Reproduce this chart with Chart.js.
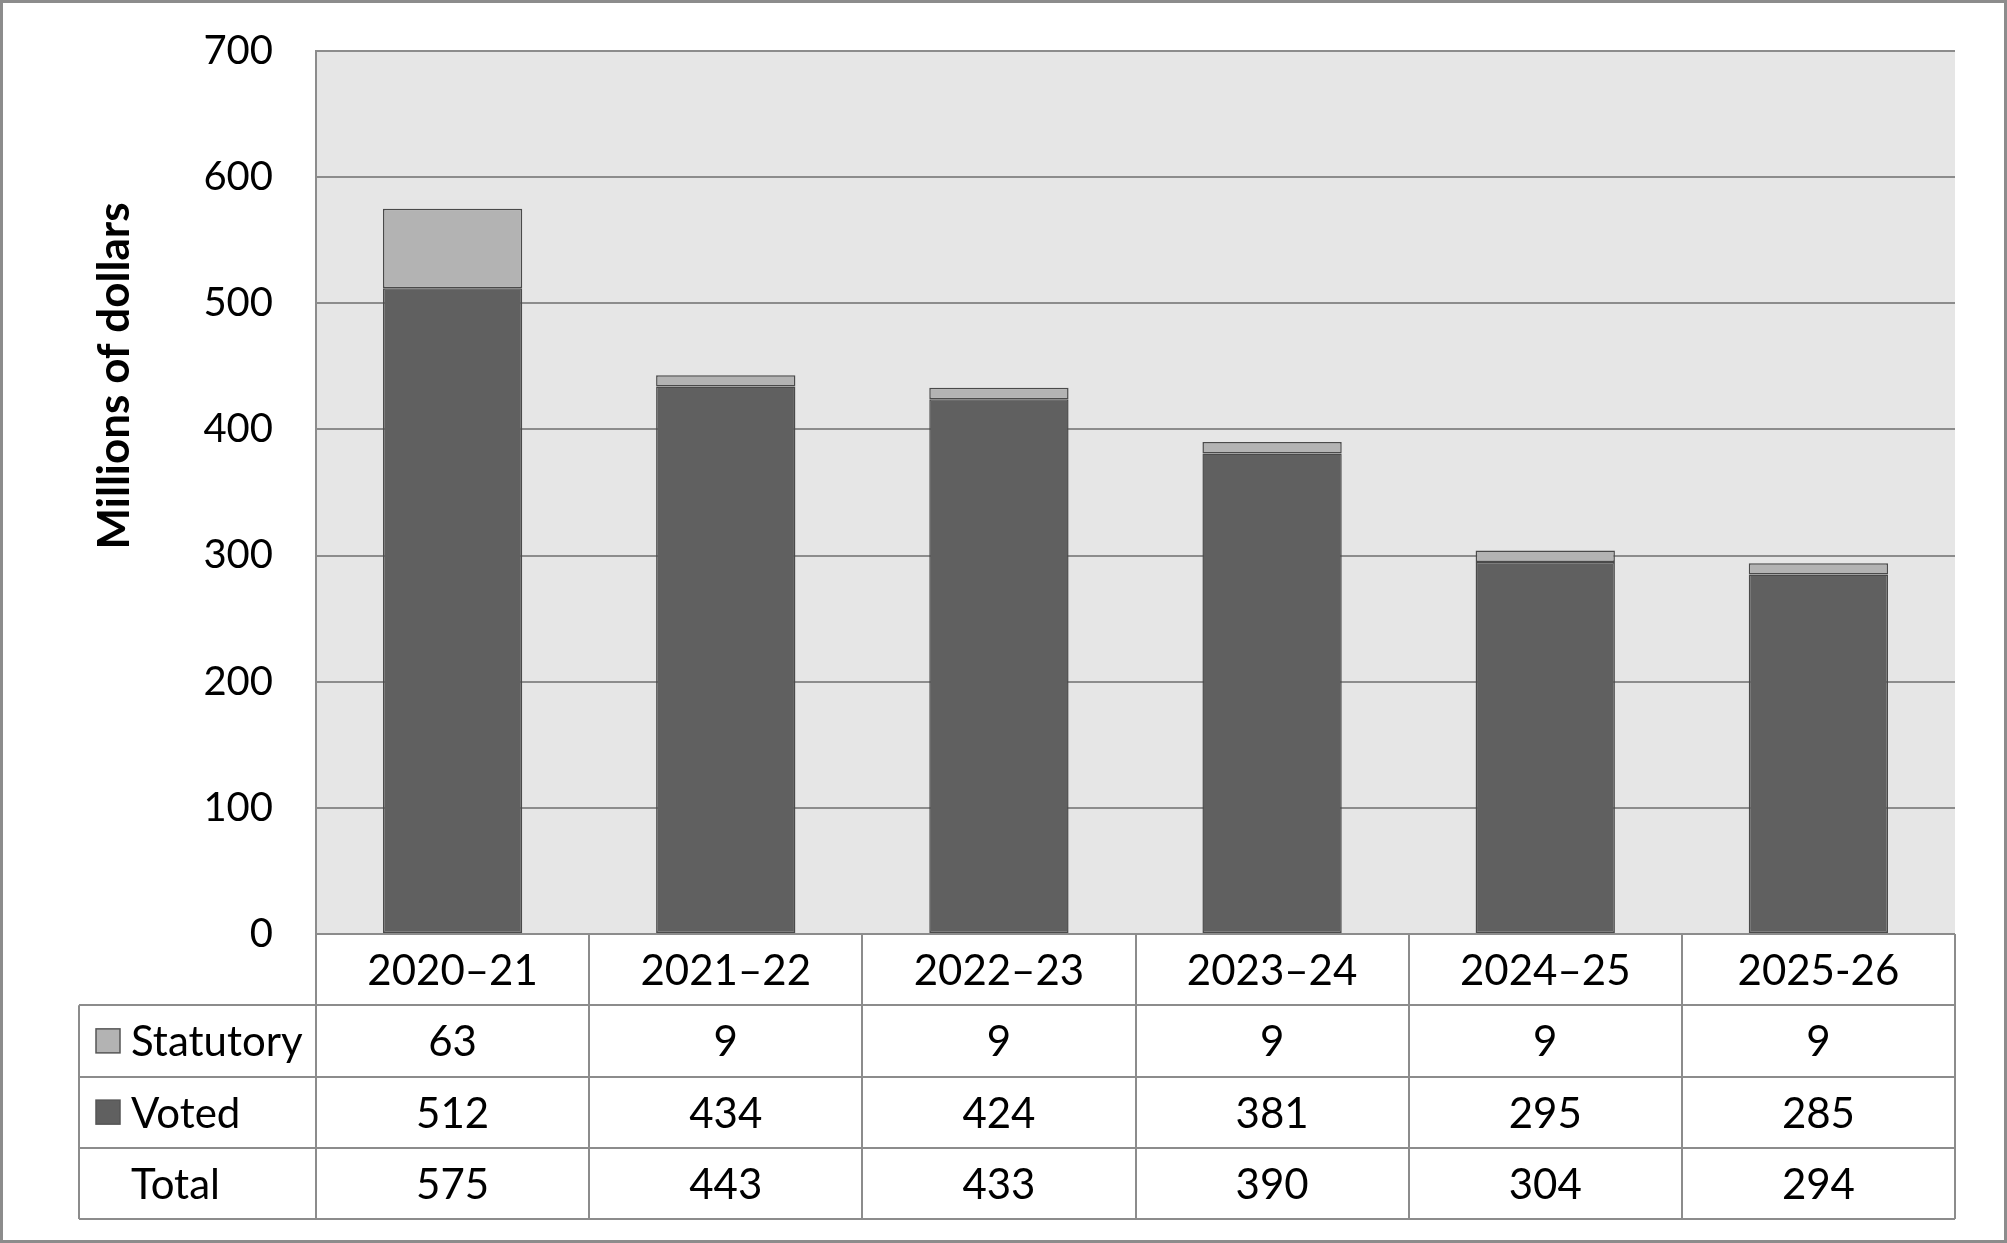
<!DOCTYPE html>
<html>
<head>
<meta charset="utf-8">
<script src="https://cdn.jsdelivr.net/npm/chart.js"></script>
<style>
  html, body { margin: 0; padding: 0; background: #fff; }
  #wrap { width: 2007px; height: 1243px; }
</style>
</head>
<body>
<div id="wrap"><canvas id="chart" width="2007" height="1243"></canvas></div>
<script>
// chart data
const years = ['2020–21', '2021–22', '2022–23', '2023–24', '2024–25', '2025-26'];
const statutory = [63, 9, 9, 9, 9, 9];
const voted = [512, 434, 424, 381, 295, 285];
const totals = [575, 443, 433, 390, 304, 294];
const rowNames = ['Statutory', 'Voted', 'Total'];
const yMax = 700;
const yStep = 100;

const FONT = 'Lato, "Open Sans", sans-serif';
const LINE = '#8c8c8c';
const VOTED_COLOR = '#606060';
const STAT_COLOR = '#b3b3b3';

// background, data table under the plot, axis title and outer frame
const tablePlugin = {
    id: 'tableAndFrame',
    beforeDraw(chart) {
        const { ctx, chartArea: a } = chart;
        ctx.save();
        ctx.fillStyle = '#ffffff';
        ctx.fillRect(0, 0, chart.width, chart.height);
        ctx.fillStyle = '#e6e6e6';
        ctx.fillRect(a.left, a.top, a.right - a.left, a.bottom - a.top);
        ctx.restore();
    },
    afterDraw(chart) {
        const { ctx, chartArea: a } = chart;
        const xs = chart.scales.x;
        const colW = (a.right - a.left) / years.length;
        const top = a.bottom;
        const rowH = (xs.bottom - top) / 4;
        const legendLeft = 79;

        ctx.save();
        ctx.strokeStyle = LINE;
        ctx.lineWidth = 2;

        // horizontal lines
        for (let r = 0; r <= 4; r++) {
            const y = Math.round(top + r * rowH);
            ctx.beginPath();
            ctx.moveTo(r === 0 ? a.left : legendLeft, y);
            ctx.lineTo(a.right, y);
            ctx.stroke();
        }
        // vertical lines
        for (let i = 0; i <= years.length; i++) {
            const x = Math.round(a.left + i * colW);
            ctx.beginPath();
            ctx.moveTo(x, top);
            ctx.lineTo(x, top + 4 * rowH);
            ctx.stroke();
        }
        ctx.beginPath();
        ctx.moveTo(legendLeft, top + rowH);
        ctx.lineTo(legendLeft, top + 4 * rowH);
        ctx.stroke();

        // cell text
        ctx.fillStyle = '#000';
        ctx.textAlign = 'center';
        ctx.textBaseline = 'middle';
        ctx.font = '42px ' + FONT;
        const rows = [years, statutory, voted, totals];
        rows.forEach((vals, r) => {
            const cy = top + r * rowH + rowH / 2 + 2;
            vals.forEach((v, i) => {
                ctx.fillText(String(v), xs.getPixelForValue(i), cy);
            });
        });

        // legend column
        ctx.textAlign = 'left';
        ctx.font = '42px ' + FONT;
        rowNames.forEach((name, r) => {
            const cy = top + (r + 1) * rowH + rowH / 2;
            if (r < 2) {
                ctx.fillStyle = r === 0 ? STAT_COLOR : VOTED_COLOR;
                ctx.fillRect(96, cy - 12, 24, 24);
                ctx.strokeStyle = '#555';
                ctx.lineWidth = 1.5;
                ctx.strokeRect(96, cy - 12, 24, 24);
            }
            ctx.fillStyle = '#000';
            ctx.fillText(name, 131, cy + 2);
        });

        // y axis title
        ctx.save();
        ctx.translate(115, 376);
        ctx.rotate(-Math.PI / 2);
        ctx.textAlign = 'center';
        ctx.textBaseline = 'middle';
        ctx.font = 'bold 44px ' + FONT;
        ctx.fillText('Millions of dollars', 0, 0);
        ctx.restore();

        // outer frame
        ctx.strokeStyle = LINE;
        ctx.lineWidth = 3;
        ctx.strokeRect(1.5, 1.5, chart.width - 3, chart.height - 3);
        ctx.restore();
    }
};

const ctx = document.getElementById('chart').getContext('2d');
new Chart(ctx, {
    type: 'bar',
    data: {
        labels: years,
        datasets: [
            {
                label: 'Voted',
                data: voted,
                backgroundColor: VOTED_COLOR,
                borderColor: '#4a4a4a',
                borderWidth: 1.5,
                borderSkipped: false,
                categoryPercentage: 1,
                barPercentage: 0.51
            },
            {
                label: 'Statutory',
                data: statutory,
                backgroundColor: STAT_COLOR,
                borderColor: '#4a4a4a',
                borderWidth: 1.5,
                borderSkipped: false,
                categoryPercentage: 1,
                barPercentage: 0.51
            }
        ]
    },
    options: {
        responsive: false,
        animation: false,
        layout: { padding: { top: 51, right: 52, bottom: 24, left: 0 } },
        plugins: {
            legend: { display: false },
            tooltip: { enabled: false }
        },
        scales: {
            x: {
                stacked: true,
                grid: { display: false, drawTicks: false },
                border: { display: false },
                ticks: { display: false },
                afterFit(scale) { scale.height = 285; }
            },
            y: {
                stacked: true,
                min: 0,
                max: yMax,
                grid: { color: LINE, lineWidth: 2, drawTicks: false },
                border: { display: true, color: LINE, width: 2 },
                ticks: {
                    stepSize: yStep,
                    padding: 43,
                    color: '#000',
                    font: { family: FONT, size: 40 }
                },
                afterFit(scale) {
                    scale.width = 316;
                    scale.paddingTop = 0;
                    scale.paddingBottom = 0;
                }
            }
        }
    },
    plugins: [tablePlugin]
});
</script>
</body>
</html>
